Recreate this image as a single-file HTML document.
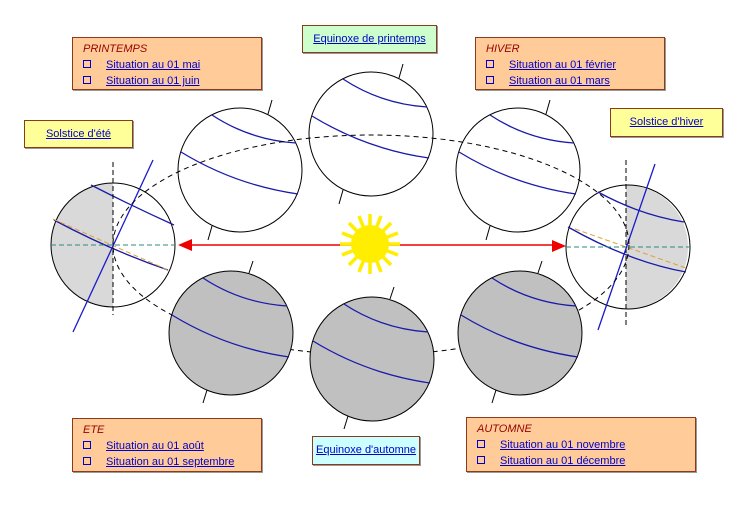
<!DOCTYPE html>
<html><head><meta charset="utf-8"><style>
body{margin:0;background:#fff;width:739px;height:507px;overflow:hidden;position:relative;font-family:"Comic Sans MS","Liberation Sans",sans-serif;font-size:11px}
.b{position:absolute;border:1px solid #8b3a1a;box-sizing:border-box;box-shadow:1px 1px 0 #999}
.o{background:#ffcc99;padding:3px 0 0 10px;line-height:16px}
.t{color:#990000;font-style:italic}
a{color:#0000cc;text-decoration:underline}
.li{display:block}
.li span.sq{display:inline-block;width:6px;height:6px;border:1.5px solid #0000cc;margin-right:15px;vertical-align:0px}
.c{text-align:center;line-height:26px}
svg{position:absolute;left:0;top:0}
</style></head><body>
<svg width="739" height="507">
<defs>
<g id="arcs">
<path d="M-28,-55 Q10,-30 56,-27" stroke="#1a1aaa" stroke-width="1.3" fill="none"/>
<path d="M-59,-18 Q-5,15 58,24" stroke="#1a1aaa" stroke-width="1.3" fill="none"/>
</g>
</defs>
<!-- top spheres -->
<g transform="translate(240,170)"><circle r="62" fill="#fff" stroke="#000"/><use href="#arcs"/><line x1="28" y1="-56" x2="32" y2="-70" stroke="#000"/><line x1="-28" y1="56" x2="-32" y2="70" stroke="#000"/></g>
<g transform="translate(371,134)"><circle r="62" fill="#fff" stroke="#000"/><use href="#arcs"/><line x1="28" y1="-56" x2="32" y2="-70" stroke="#000"/><line x1="-28" y1="56" x2="-32" y2="70" stroke="#000"/></g>
<g transform="translate(518,170)"><circle r="62" fill="#fff" stroke="#000"/><use href="#arcs"/><line x1="28" y1="-56" x2="32" y2="-70" stroke="#000"/><line x1="-28" y1="56" x2="-32" y2="70" stroke="#000"/></g>
<!-- left solstice -->
<g>
<circle cx="113" cy="245" r="62" fill="#fff"/>
<path d="M113,183 A62,62 0 0 0 113,307 Z" fill="#d9d9d9"/>
<circle cx="113" cy="245" r="62" fill="none" stroke="#000"/>
<path d="M91,185 Q130,205 174,225" stroke="#1a1aaa" stroke-width="1.3" fill="none"/>
<path d="M54,220 Q110,250 168,270" stroke="#1a1aaa" stroke-width="1.3" fill="none"/>
<line x1="53" y1="219" x2="168" y2="270" stroke="#e0a030" stroke-dasharray="5,3"/>
<line x1="51" y1="245" x2="175" y2="245" stroke="#2a8a7a" stroke-dasharray="5,3"/>
<line x1="113" y1="162" x2="113" y2="315" stroke="#000" stroke-dasharray="5,3"/>
<line x1="153" y1="160" x2="73" y2="332" stroke="#1a1acc" stroke-width="1.3"/>
</g>
<!-- right solstice -->
<g>
<circle cx="628" cy="247" r="62" fill="#fff"/>
<path d="M626,185 A62,62 0 0 1 626,309 Z" fill="#d9d9d9"/>
<circle cx="628" cy="247" r="62" fill="none" stroke="#000"/>
<path d="M598,192 Q640,215 684,222" stroke="#1a1aaa" stroke-width="1.3" fill="none"/>
<path d="M568,227 Q630,262 686,272" stroke="#1a1aaa" stroke-width="1.3" fill="none"/>
<line x1="575" y1="229" x2="686" y2="268" stroke="#e0a030" stroke-dasharray="5,3"/>
<line x1="566" y1="247" x2="690" y2="247" stroke="#2a8a7a" stroke-dasharray="5,3"/>
<line x1="626" y1="160" x2="626" y2="325" stroke="#000" stroke-dasharray="5,3"/>
<line x1="655" y1="164" x2="598" y2="330" stroke="#1a1acc" stroke-width="1.3"/>
</g>
<ellipse cx="371" cy="245" rx="258" ry="110" fill="none" stroke="#000" stroke-dasharray="5,4"/>
<!-- bottom spheres -->
<g transform="translate(231,333)"><circle r="62" fill="#c0c0c0" stroke="#000"/><use href="#arcs"/><line x1="18" y1="-60" x2="22" y2="-72" stroke="#000"/><line x1="-24" y1="57" x2="-28" y2="70" stroke="#000"/></g>
<g transform="translate(372,359)"><circle r="62" fill="#c0c0c0" stroke="#000"/><use href="#arcs"/><line x1="18" y1="-60" x2="22" y2="-72" stroke="#000"/><line x1="-24" y1="57" x2="-28" y2="70" stroke="#000"/></g>
<g transform="translate(520,333)"><circle r="62" fill="#c0c0c0" stroke="#000"/><use href="#arcs"/><line x1="18" y1="-60" x2="22" y2="-72" stroke="#000"/><line x1="-24" y1="57" x2="-28" y2="70" stroke="#000"/></g>
<!-- red arrows -->
<line x1="186" y1="245" x2="556" y2="245" stroke="#e00" stroke-width="1.5"/>
<polygon points="178,245 192,239 192,251" fill="#e00"/>
<polygon points="566,246 552,240 552,252" fill="#e00"/>
<!-- sun -->
<g transform="translate(370,244)" stroke="#ffee00" stroke-width="3.5">
<line x1="0" y1="-30" x2="0" y2="30"/><line x1="-30" y1="0" x2="30" y2="0"/>
<line x1="-21" y1="-21" x2="21" y2="21"/><line x1="-21" y1="21" x2="21" y2="-21"/>
<line x1="-11" y1="-28" x2="11" y2="28"/><line x1="11" y1="-28" x2="-11" y2="28"/>
<line x1="-28" y1="-11" x2="28" y2="11"/><line x1="-28" y1="11" x2="28" y2="-11"/>
<circle r="19" fill="#ffee00" stroke="none"/>
</g>
</svg>
<div class="b o" style="left:72px;top:37px;width:190px;height:53px"><div class="t">PRINTEMPS</div><span class="li"><span class="sq"></span><a>Situation au 01 mai</a></span><span class="li"><span class="sq"></span><a>Situation au 01 juin</a></span></div>
<div class="b o" style="left:475px;top:37px;width:190px;height:53px"><div class="t">HIVER</div><span class="li"><span class="sq"></span><a>Situation au 01 février</a></span><span class="li"><span class="sq"></span><a>Situation au 01 mars</a></span></div>
<div class="b o" style="left:72px;top:418px;width:190px;height:54px"><div class="t">ETE</div><span class="li"><span class="sq"></span><a>Situation au 01 août</a></span><span class="li"><span class="sq"></span><a>Situation au 01 septembre</a></span></div>
<div class="b o" style="left:466px;top:417px;width:230px;height:55px"><div class="t">AUTOMNE</div><span class="li"><span class="sq"></span><a>Situation au 01 novembre</a></span><span class="li"><span class="sq"></span><a>Situation au 01 décembre</a></span></div>
<div class="b c" style="left:302px;top:25px;width:135px;height:28px;background:#ccffcc"><a>Equinoxe de printemps</a></div>
<div class="b c" style="left:312px;top:436px;width:108px;height:29px;background:#ccffff"><a>Equinoxe d'automne</a></div>
<div class="b c" style="left:24px;top:120px;width:109px;height:28px;background:#ffff99"><a>Solstice d'été</a></div>
<div class="b c" style="left:610px;top:108px;width:113px;height:29px;background:#ffff99"><a>Solstice d'hiver</a></div>
</body></html>
